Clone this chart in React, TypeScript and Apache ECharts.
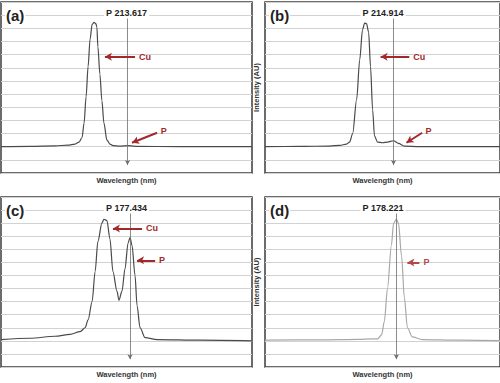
import React, { useEffect, useRef } from "react";
import * as echarts from "echarts";

// Panel (a) – Cu line interferes near P 213.617
const xA = [0, 11.6, 21.5, 26.7, 29.5, 31.1, 32.3, 33.1, 33.9, 34.7, 35.5, 36.3, 37.1, 37.8, 38.2, 38.6, 39.4, 40.2, 41.0, 42.2, 43.4, 44.6, 47.4, 50.6, 53.4, 71.3, 100];
const yA = [0, 0.03, 0.06, 0.12, 0.2, 0.35, 0.7, 1.8, 3.8, 6.1, 8.2, 9.3, 9.45, 9.35, 9.1, 7.6, 5.5, 3.5, 1.8, 0.5, 0.2, 0.08, 0.05, 0.08, 0.03, 0, 0];
// Panel (b) – P 214.914
const xB = [0, 14.8, 27.5, 31.8, 34.7, 36.0, 37.3, 39.0, 40.3, 41.5, 42.4, 43.2, 44.1, 44.9, 45.8, 46.6, 47.9, 50.0, 52.1, 54.7, 56.8, 59.3, 65.7, 100];
const yB = [0, 0.02, 0.05, 0.1, 0.2, 0.35, 1.0, 3.6, 6.6, 8.9, 9.4, 9.35, 8.7, 6.1, 2.8, 0.8, 0.35, 0.3, 0.35, 0.45, 0.25, 0.05, 0, 0];
// Panel (c) – P 177.434
const xC = [0, 11.6, 21.5, 27.5, 31.5, 33.5, 34.7, 36.3, 37.5, 38.6, 40.2, 41.0, 42.2, 43.4, 44.6, 46.2, 47.0, 48.2, 49.4, 50.6, 51.4, 52.2, 53.4, 54.2, 55.4, 57.4, 62.2, 79.3, 100];
const yC = [0.1, 0.2, 0.35, 0.5, 0.7, 1.0, 1.6, 3.0, 5.3, 7.6, 9.0, 9.3, 9.2, 7.8, 5.3, 3.8, 3.1, 3.8, 5.5, 7.45, 7.9, 7.3, 5.0, 2.7, 1.0, 0.25, 0.1, 0.05, 0];
// Panel (d) – P 178.221
const xD = [0, 23.3, 40.3, 45.3, 47.9, 49.6, 50.8, 52.1, 53.8, 54.7, 55.9, 56.8, 58.1, 59.3, 60.6, 62.7, 66.9, 82.6, 100];
const yD = [0.05, 0.08, 0.12, 0.15, 0.15, 0.45, 1.5, 4.0, 7.3, 9.0, 9.3, 9.0, 6.5, 3.3, 1.0, 0.3, 0.1, 0.05, 0.02];

const titles = ["P 213.617", "P 214.914", "P 177.434", "P 178.221"];
const panelLabels = ["(a)", "(b)", "(c)", "(d)"];
const lineX = [50.4, 54.7, 51.4, 55.9];
// annotation arrows: [label, startX, startY, endX, endY]
const annA: [string, number, number, number, number][] = [["Cu", 53.4, 6.84, 41.4, 6.84], ["P", 62.2, 1.06, 52.2, 0.3]];
const annB: [string, number, number, number, number][] = [["Cu", 61.4, 6.84, 49.2, 6.84], ["P", 66.9, 1.06, 60.2, 0.3]];
const annC: [string, number, number, number, number][] = [["Cu", 56.2, 8.6, 44.6, 8.6], ["P", 61.4, 6.16, 54.2, 6.16]];
const annD: [string, number, number, number, number][] = [["P", 65.7, 6.0, 60.6, 6.0]];

const FONT = "'Liberation Sans', Arial, sans-serif";

export default function App() {
  const ref = useRef<HTMLDivElement>(null);
  useEffect(() => {
    if (!ref.current) return;
    const chart = echarts.init(ref.current, null, { renderer: "svg" });
    const grids = [
      { left: 1, top: 2, width: 251, height: 171 },
      { left: 265, top: 2, width: 236, height: 171 },
      { left: 1, top: 197, width: 251, height: 170 },
      { left: 265, top: 197, width: 236, height: 170 },
    ];
    const xs = [xA, xB, xC, xD];
    const ys = [yA, yB, yC, yD];
    const anns = [annA, annB, annC, annD];
    const curveColors = ["#4a4a4a", "#4a4a4a", "#4a4a4a", "#a8a8a8"];
    const redColors = ["#a3282b", "#a3282b", "#a3282b", "#b24a4a"];

    const option: any = {
      animation: false,
      backgroundColor: "#fff",
      grid: grids.map((g) => ({ ...g, show: true, borderColor: "#3c3c3c", borderWidth: 1.5, backgroundColor: "transparent", containLabel: false })),
      xAxis: grids.map((_, i) => ({
        type: "value",
        gridIndex: i,
        min: 0,
        max: 100,
        axisLabel: { show: false },
        axisTick: { show: false },
        axisLine: { show: false },
        splitLine: { show: false },
        name: "Wavelength (nm)",
        nameLocation: "middle",
        nameGap: 3,
        nameTextStyle: { fontSize: 7.5, fontWeight: "bold", color: "#333", fontFamily: FONT, verticalAlign: "top" },
      })),
      yAxis: grids.map((_, i) => ({
        type: "value",
        gridIndex: i,
        min: -2,
        max: 11,
        interval: 1,
        axisLabel: { show: false },
        axisTick: { show: false },
        axisLine: { show: false },
        splitLine: { show: true, lineStyle: { color: "#d2d2d2", width: 1 } },
        name: i % 2 === 1 ? "Intensity (AU)" : "",
        nameLocation: "middle",
        nameRotate: 90,
        nameGap: 5,
        nameTextStyle: { fontSize: 7.5, fontWeight: "bold", color: "#333", fontFamily: FONT },
      })),
      series: grids.map((_, i) => ({
        type: "line",
        xAxisIndex: i,
        yAxisIndex: i,
        data: xs[i].map((x, k) => [x, ys[i][k]]),
        showSymbol: false,
        smooth: 0.3,
        smoothMonotone: "x",
        lineStyle: { color: curveColors[i], width: 1.2 },
        silent: true,
        markLine: {
          silent: true,
          animation: false,
          data: [
            [
              { coord: [lineX[i], 9.8], symbol: "none", lineStyle: { color: "#6e6e6e", width: 0.8, type: "solid" }, label: { show: false } },
              { coord: [lineX[i], -1.4], symbol: "arrow", symbolSize: [4, 5] },
            ],
            ...anns[i].map((a) => [
              {
                coord: [a[1], a[2]],
                symbol: "none",
                lineStyle: { color: redColors[i], width: 2, type: "solid" },
                label: { show: true, position: "start", formatter: a[0], color: redColors[i], fontSize: 9, fontWeight: "bold", fontFamily: FONT, distance: 4 },
              },
              { coord: [a[3], a[4]], symbol: "arrow", symbolSize: [6, 7] },
            ]),
          ],
        },
      })),
      graphic: [
        ...grids.map((g, i) => ({
          type: "text",
          x: g.left + 4,
          y: g.top + 13,
          z: 10,
          style: { text: panelLabels[i], font: `bold 15px ${FONT}`, fill: "#222", align: "left", verticalAlign: "middle", backgroundColor: "#fff", padding: [0, 1] },
        })),
        ...grids.map((g, i) => ({
          type: "text",
          x: g.left + g.width / 2,
          y: g.top + 11,
          z: 10,
          style: { text: titles[i], font: `bold 9px ${FONT}`, fill: "#222", align: "center", verticalAlign: "middle", backgroundColor: "#fff", padding: [1, 2] },
        })),
      ],
    };
    chart.setOption(option);
    return () => chart.dispose();
  }, []);
  return <div ref={ref} style={{ position: "absolute", left: 0, top: 0, width: 500, height: 383 }} />;
}
